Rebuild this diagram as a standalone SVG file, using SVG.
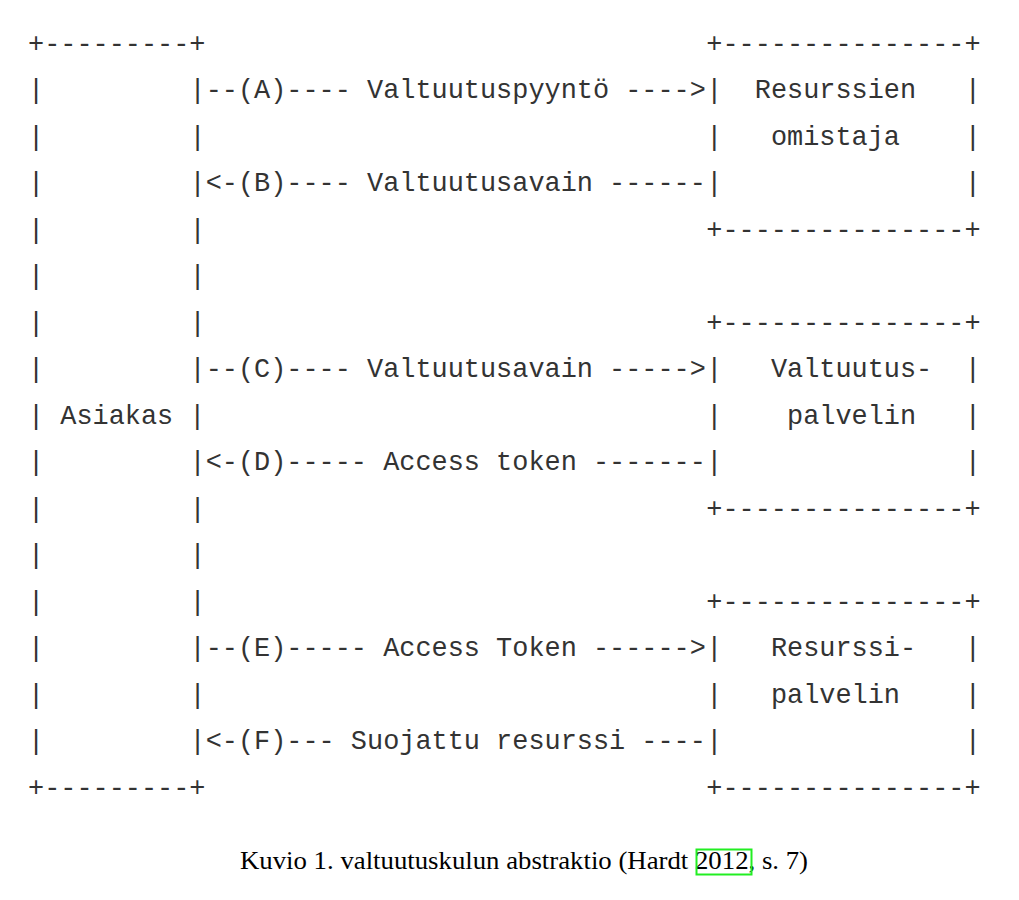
<svg xmlns="http://www.w3.org/2000/svg" width="1019" height="900" viewBox="0 0 1019 900">
<style>
.m { font-family: "Liberation Mono", "Courier New", monospace; font-size: 26.9px; fill: #333; }
.cap { font-family: "Liberation Serif", "Times New Roman", serif; font-size: 25px; fill: #000; }
</style>
<rect width="1019" height="900" fill="#fff"/>
<g id="client" class="m">
<text x="28" y="51.5">+---------+</text>
<text x="28" y="98">|</text><text x="189.5" y="98">|</text>
<text x="28" y="144.5">|</text><text x="189.5" y="144.5">|</text>
<text x="28" y="191">|</text><text x="189.5" y="191">|</text>
<text x="28" y="237.5">|</text><text x="189.5" y="237.5">|</text>
<text x="28" y="284">|</text><text x="189.5" y="284">|</text>
<text x="28" y="330.5">|</text><text x="189.5" y="330.5">|</text>
<text x="28" y="377">|</text><text x="189.5" y="377">|</text>
<text x="28" y="423.5">| Asiakas |</text>
<text x="28" y="470">|</text><text x="189.5" y="470">|</text>
<text x="28" y="516.5">|</text><text x="189.5" y="516.5">|</text>
<text x="28" y="563">|</text><text x="189.5" y="563">|</text>
<text x="28" y="609.5">|</text><text x="189.5" y="609.5">|</text>
<text x="28" y="656">|</text><text x="189.5" y="656">|</text>
<text x="28" y="702.5">|</text><text x="189.5" y="702.5">|</text>
<text x="28" y="749">|</text><text x="189.5" y="749">|</text>
<text x="28" y="795.5">+---------+</text>
</g>
<g id="connectors" class="m">
<text x="205.65" y="98">--(A)---- Valtuutuspyyntö ----&gt;</text>
<text x="205.65" y="191">&lt;-(B)---- Valtuutusavain ------</text>
<text x="205.65" y="377">--(C)---- Valtuutusavain -----&gt;</text>
<text x="205.65" y="470">&lt;-(D)----- Access token -------</text>
<text x="205.65" y="656">--(E)----- Access Token ------&gt;</text>
<text x="205.65" y="749">&lt;-(F)--- Suojattu resurssi ----</text>
</g>
<g id="resource-owner" class="m">
<text x="706.3" y="51.5">+---------------+</text>
<text x="706.3" y="98">|</text><text x="754.75" y="98">Resurssien</text><text x="964.7" y="98">|</text>
<text x="706.3" y="144.5">|</text><text x="770.9" y="144.5">omistaja</text><text x="964.7" y="144.5">|</text>
<text x="706.3" y="191">|</text><text x="964.7" y="191">|</text>
<text x="706.3" y="237.5">+---------------+</text>
</g>
<g id="authorization-server" class="m">
<text x="706.3" y="330.5">+---------------+</text>
<text x="706.3" y="377">|</text><text x="770.9" y="377">Valtuutus-</text><text x="964.7" y="377">|</text>
<text x="706.3" y="423.5">|</text><text x="787.05" y="423.5">palvelin</text><text x="964.7" y="423.5">|</text>
<text x="706.3" y="470">|</text><text x="964.7" y="470">|</text>
<text x="706.3" y="516.5">+---------------+</text>
</g>
<g id="resource-server" class="m">
<text x="706.3" y="609.5">+---------------+</text>
<text x="706.3" y="656">|</text><text x="770.9" y="656">Resurssi-</text><text x="964.7" y="656">|</text>
<text x="706.3" y="702.5">|</text><text x="770.9" y="702.5">palvelin</text><text x="964.7" y="702.5">|</text>
<text x="706.3" y="749">|</text><text x="964.7" y="749">|</text>
<text x="706.3" y="795.5">+---------------+</text>
</g>
<g id="caption">
<text class="cap" x="240" y="869" textLength="568" lengthAdjust="spacingAndGlyphs">Kuvio 1. valtuutuskulun abstraktio (Hardt 2012, s. 7)</text>
<rect x="696.5" y="849.5" width="55" height="25" fill="none" stroke="#22ee22" stroke-width="2"/>
</g>
</svg>
